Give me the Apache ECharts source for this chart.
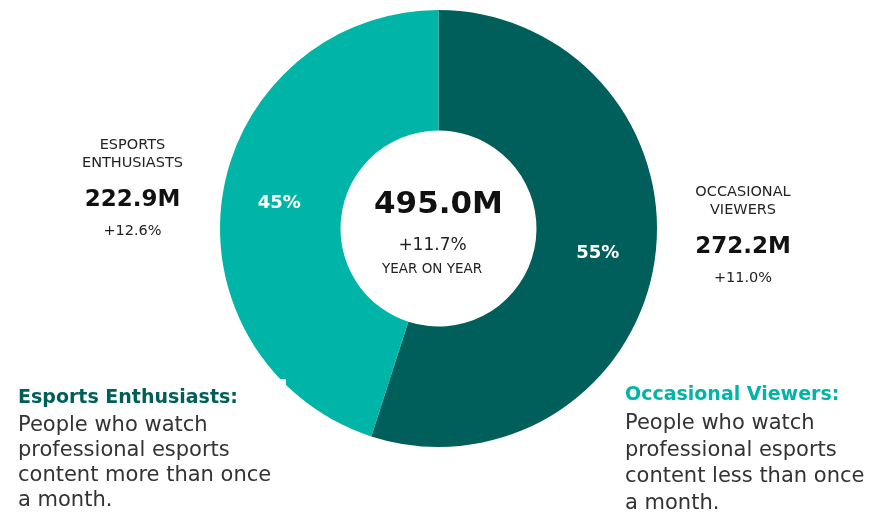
<!DOCTYPE html>
<html>
<head>
<meta charset="utf-8">
<script src="https://cdn.jsdelivr.net/npm/echarts@6/dist/echarts.min.js"></script>
<style>
  html, body { margin: 0; padding: 0; background: #fff; }
  #chart { width: 893px; height: 513px; }
</style>
</head>
<body>
<div id="chart"></div>
<script>
// Audience segments (millions of viewers) and their year-on-year growth
const segmentNames = ['OCCASIONAL\nVIEWERS', 'ESPORTS\nENTHUSIASTS'];
const segmentValues = [272.2, 222.9];
const segmentGrowth = ['+11.0%', '+12.6%'];
const segmentColors = ['#005F5A', '#00B5A8'];
const totalAudience = 495.0;
const totalGrowth = '+11.7%';

const FONT = '"DejaVu Sans", "Open Sans", sans-serif';
const CX = 438.5, CY = 228.5;

const chart = echarts.init(document.getElementById('chart'), null, { renderer: 'canvas' });

function sideBlock(i, x, yTop) {
  return [
    { type: 'text', x: x, y: yTop, style: {
        text: segmentNames[i], font: '400 14.5px ' + FONT, fill: '#222',
        textAlign: 'center', textVerticalAlign: 'middle', lineHeight: 18 } },
    { type: 'text', x: x, y: yTop + 46, style: {
        text: segmentValues[i].toFixed(1) + 'M', font: '700 23px ' + FONT, fill: '#111',
        textAlign: 'center', textVerticalAlign: 'middle' } },
    { type: 'text', x: x, y: yTop + 77, style: {
        text: segmentGrowth[i], font: '400 14.5px ' + FONT, fill: '#222',
        textAlign: 'center', textVerticalAlign: 'middle' } }
  ];
}

function noteBlock(x, y, title, lines, color, lineHeight) {
  return [
    { type: 'text', x: x, y: y, style: {
        text: title, font: '700 19px ' + FONT, fill: color,
        textVerticalAlign: 'middle' } },
    { type: 'text', x: x, y: y + 15, style: {
        text: lines.join('\n'), font: '400 21px ' + FONT, fill: '#333',
        lineHeight: lineHeight, textVerticalAlign: 'top' } }
  ];
}

chart.setOption({
  backgroundColor: '#ffffff',
  animation: false,
  series: [{
    type: 'pie',
    center: [CX, CY],
    radius: [98, 218.5],
    startAngle: 90,
    clockwise: true,
    avoidLabelOverlap: false,
    itemStyle: { borderWidth: 0 },
    label: {
      show: true,
      position: 'inside',
      formatter: (p) => Math.round(p.percent) + '%',
      color: '#ffffff',
      fontFamily: FONT,
      fontWeight: 700,
      fontSize: 18
    },
    labelLine: { show: false },
    emphasis: { disabled: true },
    data: segmentValues.map((v, i) => ({
      value: v,
      name: segmentNames[i],
      itemStyle: { color: segmentColors[i] }
    }))
  }],
  graphic: [
    // white panel behind the left note, trimming the ring's lower-left edge
    { type: 'rect', z: 100, shape: { x: 0, y: 379, width: 286, height: 140 }, style: { fill: '#fff' } },
    // centre total
    { type: 'text', z: 101, x: CX, y: 205, style: {
        text: totalAudience.toFixed(1) + 'M', font: '700 31px ' + FONT, fill: '#111',
        textAlign: 'center', textVerticalAlign: 'middle' } },
    { type: 'text', z: 101, x: 432.5, y: 246, style: {
        text: totalGrowth, font: '400 17px ' + FONT, fill: '#222',
        textAlign: 'center', textVerticalAlign: 'middle' } },
    { type: 'text', z: 101, x: 432, y: 269, style: {
        text: 'YEAR ON YEAR', font: '400 13.5px ' + FONT, fill: '#222',
        textAlign: 'center', textVerticalAlign: 'middle' } },
    ...sideBlock(1, 132.5, 154).map(e => Object.assign(e, { z: 101 })),
    ...sideBlock(0, 743, 201).map(e => Object.assign(e, { z: 101 })),
    ...noteBlock(18, 398, 'Esports Enthusiasts:',
      ['People who watch', 'professional esports', 'content more than once', 'a month.'],
      segmentColors[0], 25).map(e => Object.assign(e, { z: 101 })),
    ...noteBlock(625, 395, 'Occasional Viewers:',
      ['People who watch', 'professional esports', 'content less than once', 'a month.'],
      segmentColors[1], 26.7).map(e => Object.assign(e, { z: 101 }))
  ]
});
</script>
</body>
</html>
